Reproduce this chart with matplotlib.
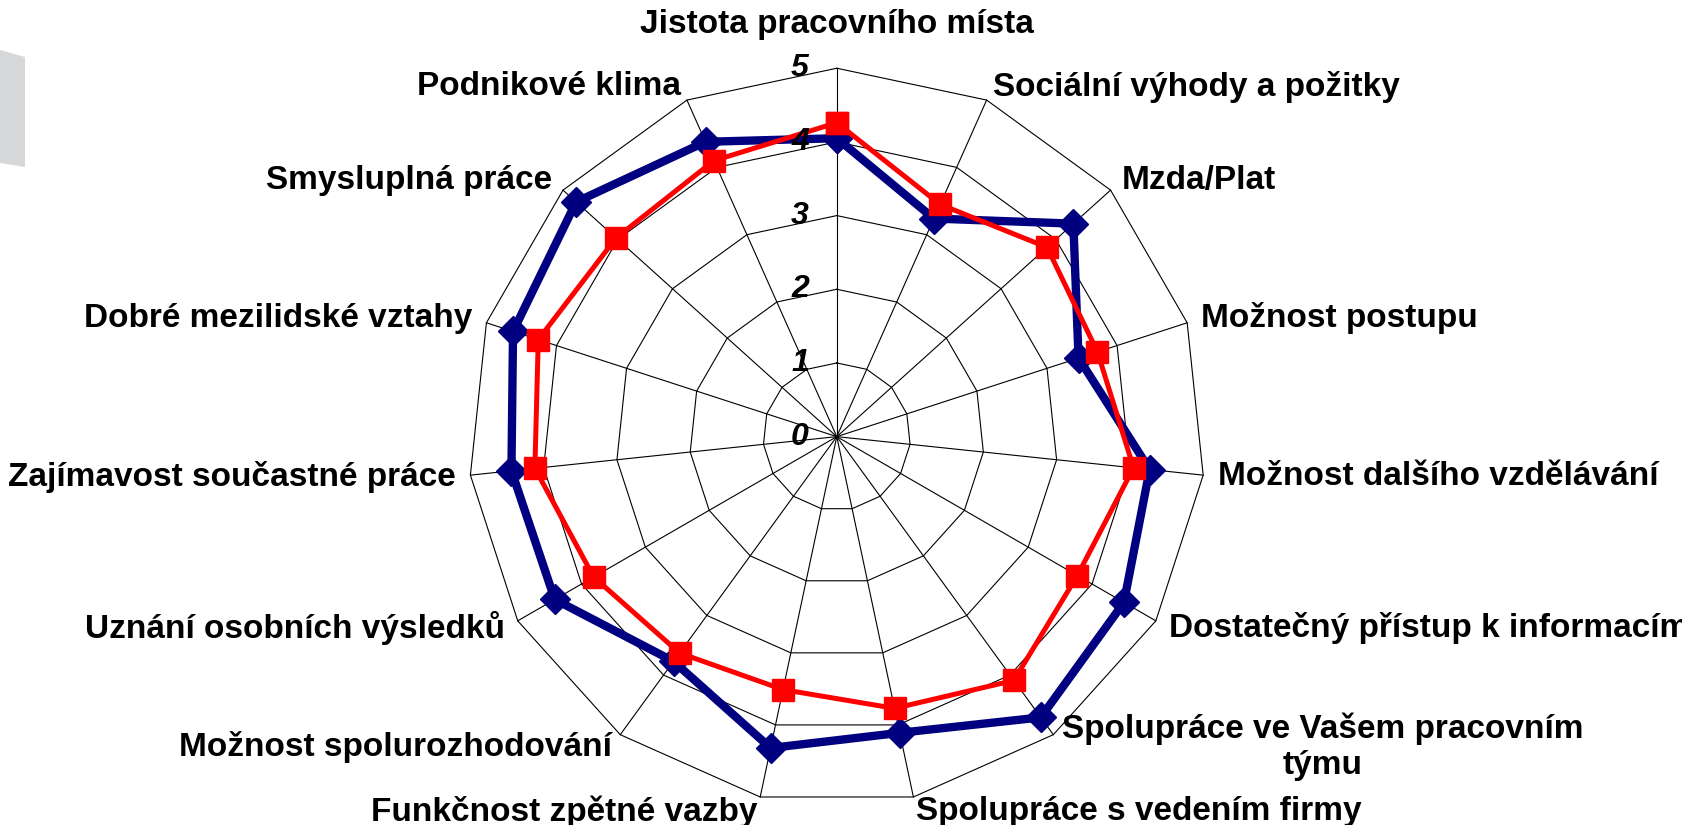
import numpy as np
import matplotlib
matplotlib.use('Agg')
import matplotlib.pyplot as plt
from matplotlib.transforms import offset_copy
from matplotlib.patches import Polygon

plt.rcParams['font.family'] = ['Liberation Sans', 'DejaVu Sans']

# kategorie po směru hodinových ručiček od vrcholu
categories = [
    'Jistota pracovního místa',
    'Sociální výhody a požitky',
    'Mzda/Plat',
    'Možnost postupu',
    'Možnost dalšího vzdělávání',
    'Dostatečný přístup k informacím',
    'Spolupráce ve Vašem pracovním\ntýmu',
    'Spolupráce s vedením firmy',
    'Funkčnost zpětné vazby',
    'Možnost spolurozhodování',
    'Uznání osobních výsledků',
    'Zajímavost součastné práce',
    'Dobré mezilidské vztahy',
    'Smysluplná práce',
    'Podnikové klima',
]
series_blue = [4.05, 3.24, 4.32, 3.45, 4.27, 4.50, 4.71, 4.11, 4.32, 3.77, 4.42, 4.44, 4.62, 4.76, 4.38]
series_red = [4.26, 3.45, 3.84, 3.72, 4.05, 3.77, 4.09, 3.77, 3.51, 3.63, 3.81, 4.12, 4.26, 4.03, 4.10]
r_ticks = [0, 1, 2, 3, 4, 5]

n = len(categories)
theta = np.linspace(0, 2 * np.pi, n, endpoint=False)
theta_closed = np.append(theta, theta[0])


def close(vals):
    return list(vals) + [vals[0]]


fig = plt.figure(figsize=(16.83, 8.25), dpi=100)

# šedý kus grafiky vlevo nahoře
W, H = 1683.0, 825.0
grey = [(0, 50), (25, 57), (25, 167), (0, 163)]
fig.patches.append(Polygon([(x / W, 1 - y / H) for x, y in grey], closed=True,
                           transform=fig.transFigure, facecolor='#d7d8da', edgecolor='none'))

ax = fig.add_axes([0.2783, 0.0242, 0.4378, 0.8931], projection='polar')
ax.set_theta_zero_location('N')
ax.set_theta_direction(-1)
ax.set_ylim(0, 5)
ax.axis('off')

# mnohoúhelníková mřížka
for r in r_ticks[1:]:
    ax.plot(theta_closed, [r] * (n + 1), color='black', lw=0.8, zorder=1, clip_on=False)
for t in theta:
    ax.plot([t, t], [0, 5], color='black', lw=0.8, zorder=1, clip_on=False)

ax.plot(theta_closed, close(series_blue), color='#000080', lw=6, marker='D', ms=15,
        zorder=3, clip_on=False)
ax.plot(theta_closed, close(series_red), color='#ff0000', lw=3.6, marker='s', ms=16,
        zorder=4, clip_on=False)

# popisky osy
trans = offset_copy(ax.transData, fig=fig, x=-28, y=0, units='dots')
for r in r_ticks:
    ax.text(0, r, str(r), transform=trans, ha='right', va='center', fontsize=23,
            fontweight='bold', fontstyle='italic', zorder=5)

# popisky kategorií
for t, lab in zip(theta, categories):
    deg = np.degrees(t)
    if deg < 1:
        ax.text(t, 5.6, lab, ha='center', va='center', fontsize=24, fontweight='bold')
    else:
        ha = 'left' if deg < 180 else 'right'
        ax.text(t, 5.2, lab, ha=ha, va='center', fontsize=24, fontweight='bold',
                multialignment='center')

fig.savefig('out.png', dpi=100)
